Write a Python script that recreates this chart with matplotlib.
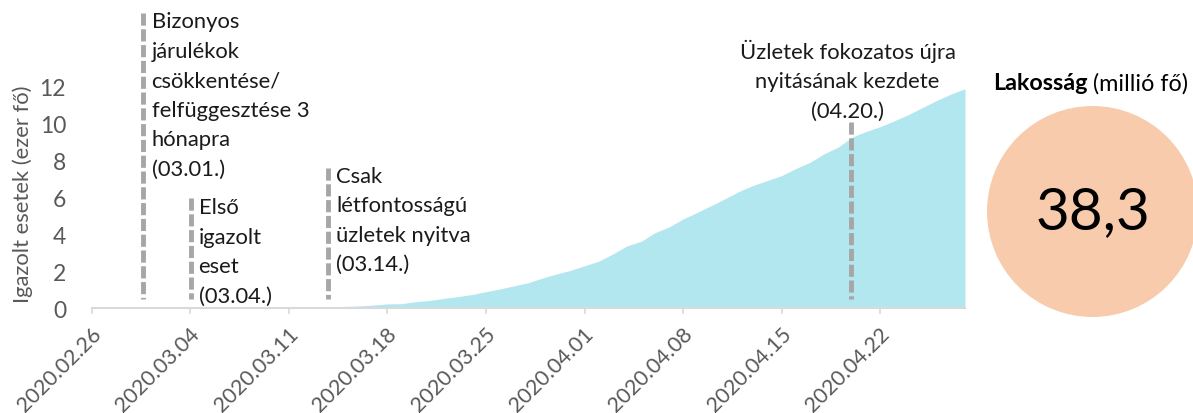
import matplotlib
matplotlib.use("Agg")
import matplotlib.pyplot as plt
import matplotlib.dates as mdates
import matplotlib.transforms as mtransforms
from matplotlib.patches import Circle
import pandas as pd

plt.rcParams['font.family'] = ['Lato', 'DejaVu Sans']

# ---- data ----
dates = pd.date_range('2020-02-26', '2020-04-28', freq='D')
cases_thousand = [
    0, 0, 0, 0, 0, 0, 0, 0,                 # 02.26 - 03.04
    0.001, 0.001, 0.005, 0.005, 0.011, 0.016, 0.022, 0.031, 0.051,  # 03.05 - 03.13
    0.068, 0.104, 0.125, 0.177, 0.238, 0.251, 0.355, 0.425, 0.536,  # 03.14 - 03.22
    0.634, 0.749, 0.901, 1.051, 1.221, 1.389, 1.638, 1.862, 2.055,  # 03.23 - 03.31
    2.311, 2.554, 2.946, 3.383, 3.627, 4.102, 4.413, 4.848, 5.205,  # 04.01 - 04.09
    5.575, 5.955, 6.356, 6.674, 6.934, 7.202, 7.582, 7.918, 8.379,  # 04.10 - 04.18
    8.742, 9.287, 9.593, 9.856, 10.169, 10.511, 10.892, 11.273,     # 04.19 - 04.26
    11.617, 11.902,                                                 # 04.27 - 04.28
]
tick_dates = pd.date_range('2020-02-26', '2020-04-22', freq='7D')

# event lines: position, top of line (thousand), label
event_pos = pd.to_datetime(['2020-02-29 15:00', '2020-03-04 01:00',
                            '2020-03-13 18:00', '2020-04-19 21:00'])
event_top = [16.0, 6.0, 7.6, 10.1]
event_text = [
    "Bizonyos\njárulékok\ncsökkentése/\nfelfüggesztése 3\nhónapra\n(03.01.)",
    "Első\nigazolt\neset\n(03.04.)",
    "Csak\nlétfontosságú\nüzletek nyitva\n(03.14.)",
    "Üzletek fokozatos újra\nnyitásának kezdete\n(04.20.)",
]
population_million = 38.3
y_ticks = [0, 2, 4, 6, 8, 10, 12]

# ---- figure ----
W, H = 1193, 414
fig = plt.figure(figsize=(W / 100, H / 100), dpi=100)
ax = fig.add_axes([91.7 / W, (H - 309.3) / H, (965 - 91.7) / W, (309.3 - 51.1) / H])

ax.fill_between(dates, cases_thousand, 0, color='#B2E7EF', lw=0, zorder=1)

for x, top in zip(event_pos, event_top):
    ax.plot([x, x], [top, 0.5], color='#A6A6A6', lw=3.5, dashes=(2.5, 0.75),
            clip_on=False, zorder=3, dash_capstyle='butt')

txt_color = '#1a1a1a'
fs = 15.8
lsp = 1.6
ax.text(event_pos[0] + pd.Timedelta(hours=15), 11.57, event_text[0], ha='left', va='center',
        fontsize=fs, color=txt_color, linespacing=lsp, clip_on=False)
ax.text(event_pos[1] + pd.Timedelta(hours=13), 3.08, event_text[1], ha='left', va='center',
        fontsize=fs, color=txt_color, linespacing=lsp, clip_on=False)
ax.text(event_pos[2] + pd.Timedelta(hours=15), 4.79, event_text[2], ha='left', va='center',
        fontsize=fs, color=txt_color, linespacing=lsp, clip_on=False)
ax.text(event_pos[3] - pd.Timedelta(hours=5), 12.4, event_text[3], ha='center', va='center',
        multialignment='center', fontsize=fs, color=txt_color, linespacing=lsp, clip_on=False)

ax.set_xlim(dates[0], dates[-1])
ax.set_ylim(0, 14)
ax.set_xticks(tick_dates)
ax.xaxis.set_major_formatter(mdates.DateFormatter('%Y.%m.%d'))
ax.set_yticks(y_ticks)
ax.set_yticklabels([str(v) for v in y_ticks])

for s in ['top', 'right', 'left']:
    ax.spines[s].set_visible(False)
ax.spines['bottom'].set_color('#D9D9D9')
ax.spines['bottom'].set_linewidth(1.5)
ax.tick_params(axis='x', colors='#D9D9D9', length=4, width=1.2, labelcolor='#595959',
               labelsize=15.5, pad=12)
ax.tick_params(axis='y', length=0, labelcolor='#595959', labelsize=16.5, pad=18.5)
offset = mtransforms.ScaledTranslation(6 / 100, 0, fig.dpi_scale_trans)
for lab in ax.get_xticklabels():
    lab.set_rotation(45)
    lab.set_ha('right')
    lab.set_va('center')
    lab.set_rotation_mode('anchor')
    lab.set_transform(lab.get_transform() + offset)

fig.text(23 / W, 1 - 194 / H, 'Igazolt esetek (ezer fő)', rotation=90, ha='center', va='center',
         fontsize=15.8, color='#595959')

# population circle
ax2 = fig.add_axes([987 / W, (H - 318) / H, 211 / W, 211 / H])
ax2.set_xlim(0, 1)
ax2.set_ylim(0, 1)
ax2.axis('off')
ax2.add_patch(Circle((0.5, 0.5), 0.5, color='#F8CBAD', lw=0, clip_on=False))
ax2.text(0.5, 0.5, f"{population_million:.1f}".replace('.', ','), ha='center', va='center',
         fontsize=42, color='black')

t1 = fig.text(992.7 / W, 1 - 84 / H, 'Lakosság', ha='left', va='center', fontsize=16.8,
              fontweight='bold', color='black')
ax.annotate(' (millió fő)', xy=(1, 0), xycoords=t1, ha='left', va='bottom',
            fontsize=16.8, color='black', annotation_clip=False)

fig.savefig('out.png', dpi=100)
